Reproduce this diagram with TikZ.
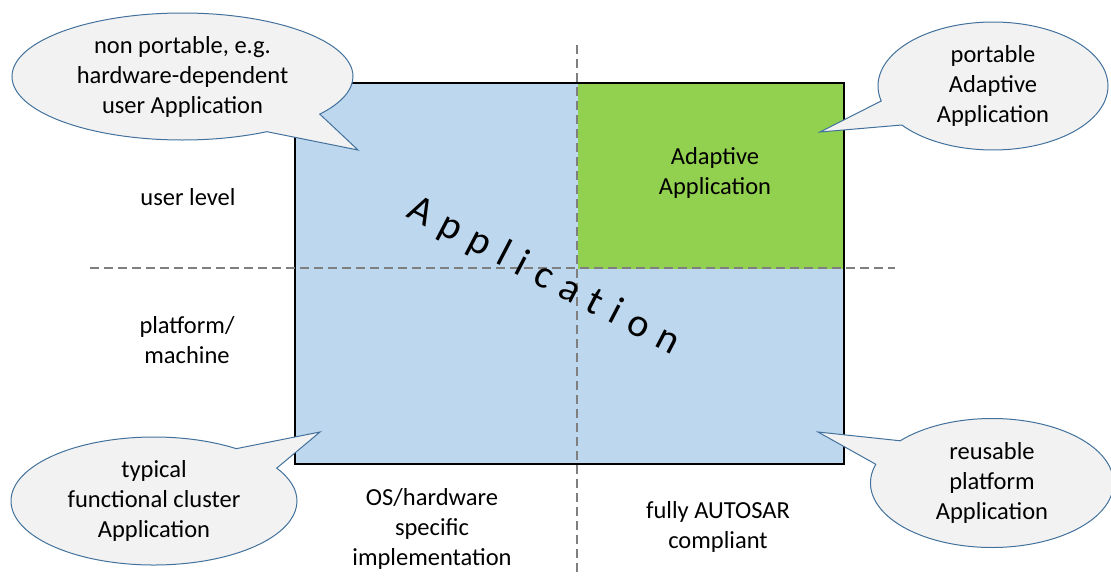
\documentclass[tikz,border=0pt]{standalone}
\usepackage{fontspec}
\setmainfont{Carlito}
\usetikzlibrary{shapes.callouts,shapes.geometric}
\definecolor{lblue}{HTML}{BDD7EE}
\definecolor{lgreen}{HTML}{92D050}
\definecolor{bubfill}{HTML}{F2F2F2}
\definecolor{bubline}{HTML}{41719C}
\definecolor{dashgray}{HTML}{7F7F7F}
\newcommand{\gp}{\hspace{11.6pt}}
\tikzset{
  bubble/.style={ellipse callout, draw=bubline, fill=bubfill, line width=1pt,
    inner sep=0pt, align=center, font=\fontsize{24.5}{30}\selectfont, callout pointer arc=24},
  lbl/.style={align=center, font=\fontsize{24.5}{30}\selectfont, inner sep=0pt},
  divider/.style={draw=dashgray, line width=2.2pt, dash pattern=on 9pt off 5pt}
}
\begin{document}
\begin{tikzpicture}[x=1pt,y=-1pt]
\useasboundingbox (0,0) rectangle (1111,576);
% main rectangles
\node[draw=black, line width=1.2pt, fill=lblue, minimum width=548pt, minimum height=380pt, inner sep=0pt, anchor=north west] (main) at (295,83) {};
\node[fill=lgreen, minimum width=265pt, minimum height=185pt, inner sep=0pt, anchor=north west] (adapt) at (578,84) {};
\draw[black, line width=1.2pt] (main.north west) rectangle (main.south east);
\node[lbl] (adtext) at (715,173) {Adaptive\\Application};
% dashed dividers
\coordinate (vtop) at (577,45);
\coordinate (vbot) at (577,576);
\coordinate (hl) at (90,268);
\coordinate (hr) at (895,268);
\draw[divider] (vtop) -- (vbot);
\draw[divider] (hl) -- (hr);
% big rotated text
\node[font=\fontsize{40}{40}\selectfont, rotate=-27.5, anchor=base, inner sep=0pt] (app) at (539,286)
  {A\gp p\gp p\gp l\gp i\gp c\gp a\gp t\gp i\gp o\gp n};
% side labels
\node[lbl] (ul) at (188,197) {user level};
\node[lbl] (pm) at (187,340) {platform/\\machine};
\node[lbl] (os) at (432,529) {OS/hardware\\specific\\implementation};
\node[lbl] (fa) at (718,527) {fully AUTOSAR\\compliant};
% callouts
\coordinate (p1) at (358,150);
\coordinate (p2) at (820,132);
\coordinate (p3) at (320,432);
\coordinate (p4) at (818,432);
\node[bubble, minimum width=341pt, minimum height=127pt, callout absolute pointer={(p1)}] (b1) at (182.5,76.5) {non portable, e.g.\\hardware-dependent\\user Application};
\node[bubble, minimum width=230pt, minimum height=128pt, callout absolute pointer={(p2)}] (b2) at (993,86) {portable\\Adaptive\\Application};
\node[bubble, minimum width=286pt, minimum height=128pt, callout absolute pointer={(p3)}] (b3) at (154,501) {typical\\functional cluster\\Application};
\node[bubble, minimum width=243pt, minimum height=129pt, callout absolute pointer={(p4)}] (b4) at (992,483) {reusable\\platform\\Application};
\end{tikzpicture}
\end{document}
